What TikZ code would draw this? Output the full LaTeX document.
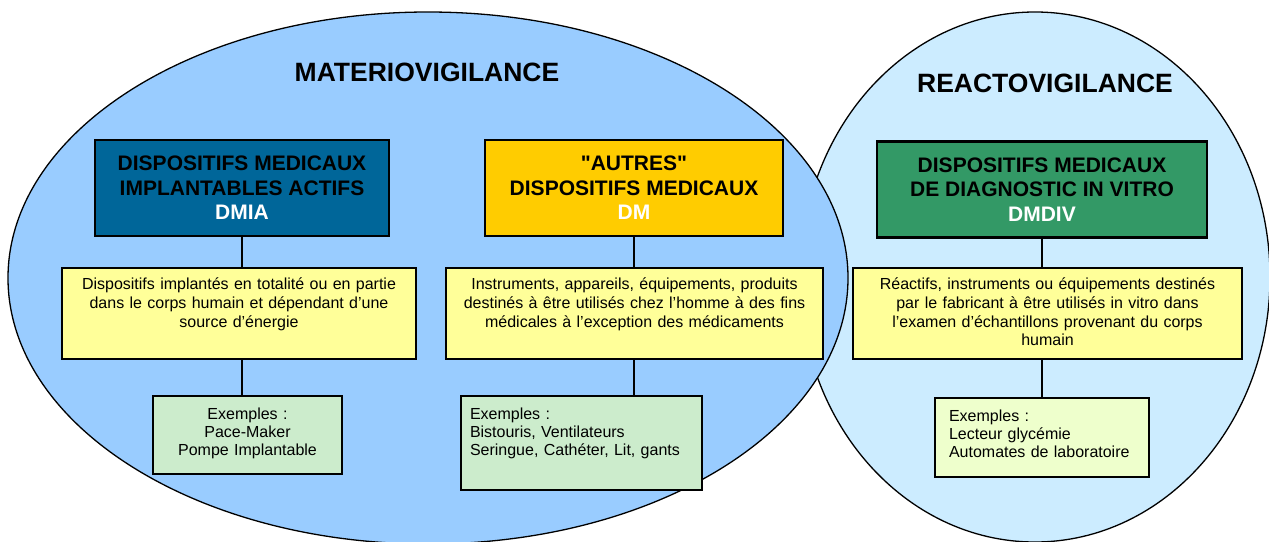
\documentclass[tikz,border=0pt]{standalone}
\usepackage{fontspec}
\setmainfont{Liberation Sans}
\usetikzlibrary{shapes}

\definecolor{materio}{HTML}{99CCFF}
\definecolor{reacto}{HTML}{CCECFF}
\definecolor{dmiablue}{HTML}{006699}
\definecolor{dmyellow}{HTML}{FFCC00}
\definecolor{dmdivgreen}{HTML}{339966}
\definecolor{descyellow}{HTML}{FFFF99}
\definecolor{exgreen}{HTML}{CCECCC}
\definecolor{exlime}{HTML}{EEFFCC}

\begin{document}
\begin{tikzpicture}[x=1pt,y=-1pt]
		\tikzstyle {title} = [font=\fontsize{26.5}{30}\selectfont\bfseries]
		\tikzstyle {head} = [draw, line width=2.6pt, align=center, minimum height=96pt, font=\fontsize{21}{24.5}\selectfont\bfseries]
		\tikzstyle {desc} = [draw, line width=1.6pt, fill=descyellow, anchor=north, align=center, inner xsep=6pt, inner ysep=7pt, text height=15pt, text depth=62pt, font=\fontsize{16}{18.7}\selectfont]
		\tikzstyle {exbox} = [draw, line width=1.6pt, anchor=north, inner ysep=8pt, text height=16pt, font=\fontsize{16}{18}\selectfont]
		\tikzstyle {link} = [line width=1.8pt]

		\useasboundingbox (0,0) rectangle (1269,541);
		\clip (0,0) rectangle (1269,541);

		% les deux domaines
		\draw[fill=reacto, line width=1.3pt] (1035,277) ellipse [x radius=235, y radius=265];
		\draw[fill=materio, line width=1.3pt] (428,278) ellipse [x radius=420, y radius=266];

		\node[title] (materio) at (427,72) {MATERIOVIGILANCE};
		\node[title] (reacto) at (1045,83) {REACTOVIGILANCE};

		% categories
		\node[head, fill=dmiablue, minimum width=294pt] (hdA) at (242,188)
			{DISPOSITIFS MEDICAUX\\IMPLANTABLES ACTIFS\\{\color{white}DMIA}};
		\node[head, fill=dmyellow, minimum width=298pt] (hdM) at (634,188)
			{\textquotedbl AUTRES\textquotedbl\\DISPOSITIFS MEDICAUX\\{\color{white}DM}};
		\node[head, fill=dmdivgreen, minimum width=330pt] (hdR) at (1042,189.5)
			{DISPOSITIFS MEDICAUX\\DE DIAGNOSTIC IN VITRO\\{\color{white}DMDIV}};

		% definitions
		\node[desc, text width=342pt] (descA) at (239,267)
			{Dispositifs implantés en totalité ou en partie\\dans le corps humain et dépendant d’une\\source d’énergie};
		\node[desc, text width=365pt] (descM) at (634.5,267)
			{Instruments, appareils, équipements, produits\\destinés à être utilisés chez l’homme à des fins\\médicales à l’exception des médicaments};
		\node[desc, text width=377pt] (descR) at (1047.5,267)
			{Réactifs, instruments ou équipements destinés\\par le fabricant à être utilisés in vitro dans\\l’examen d’échantillons provenant du corps\\humain};

		% exemples
		\node[exbox, fill=exgreen, align=center, inner xsep=6pt, text width=177pt, text depth=46pt] (exA) at (247.5,395)
			{Exemples :\\Pace-Maker\\Pompe Implantable};
		\node[exbox, fill=exgreen, align=left, inner xsep=9pt, text width=223pt, text depth=62pt] (exM) at (581.5,395)
			{Exemples :\\Bistouris, Ventilateurs\\Seringue, Cathéter, Lit, gants};
		\node[exbox, fill=exlime, align=left, inner xsep=14pt, text width=186pt, text depth=47pt] (exR) at (1042,397)
			{Exemples :\\Lecteur glycémie\\Automates de laboratoire};

		\draw[link] (hdA.south) -- (hdA.south |- descA.north);
		\draw[link] (hdM.south) -- (hdM.south |- descM.north);
		\draw[link] (hdR.south) -- (hdR.south |- descR.north);

		\draw[link] (hdA.south |- descA.south) -- (hdA.south |- exA.north);
		\draw[link] (hdM.south |- descM.south) -- (hdM.south |- exM.north);
		\draw[link] (hdR.south |- descR.south) -- (hdR.south |- exR.north);
	\end{tikzpicture}
\end{document}
